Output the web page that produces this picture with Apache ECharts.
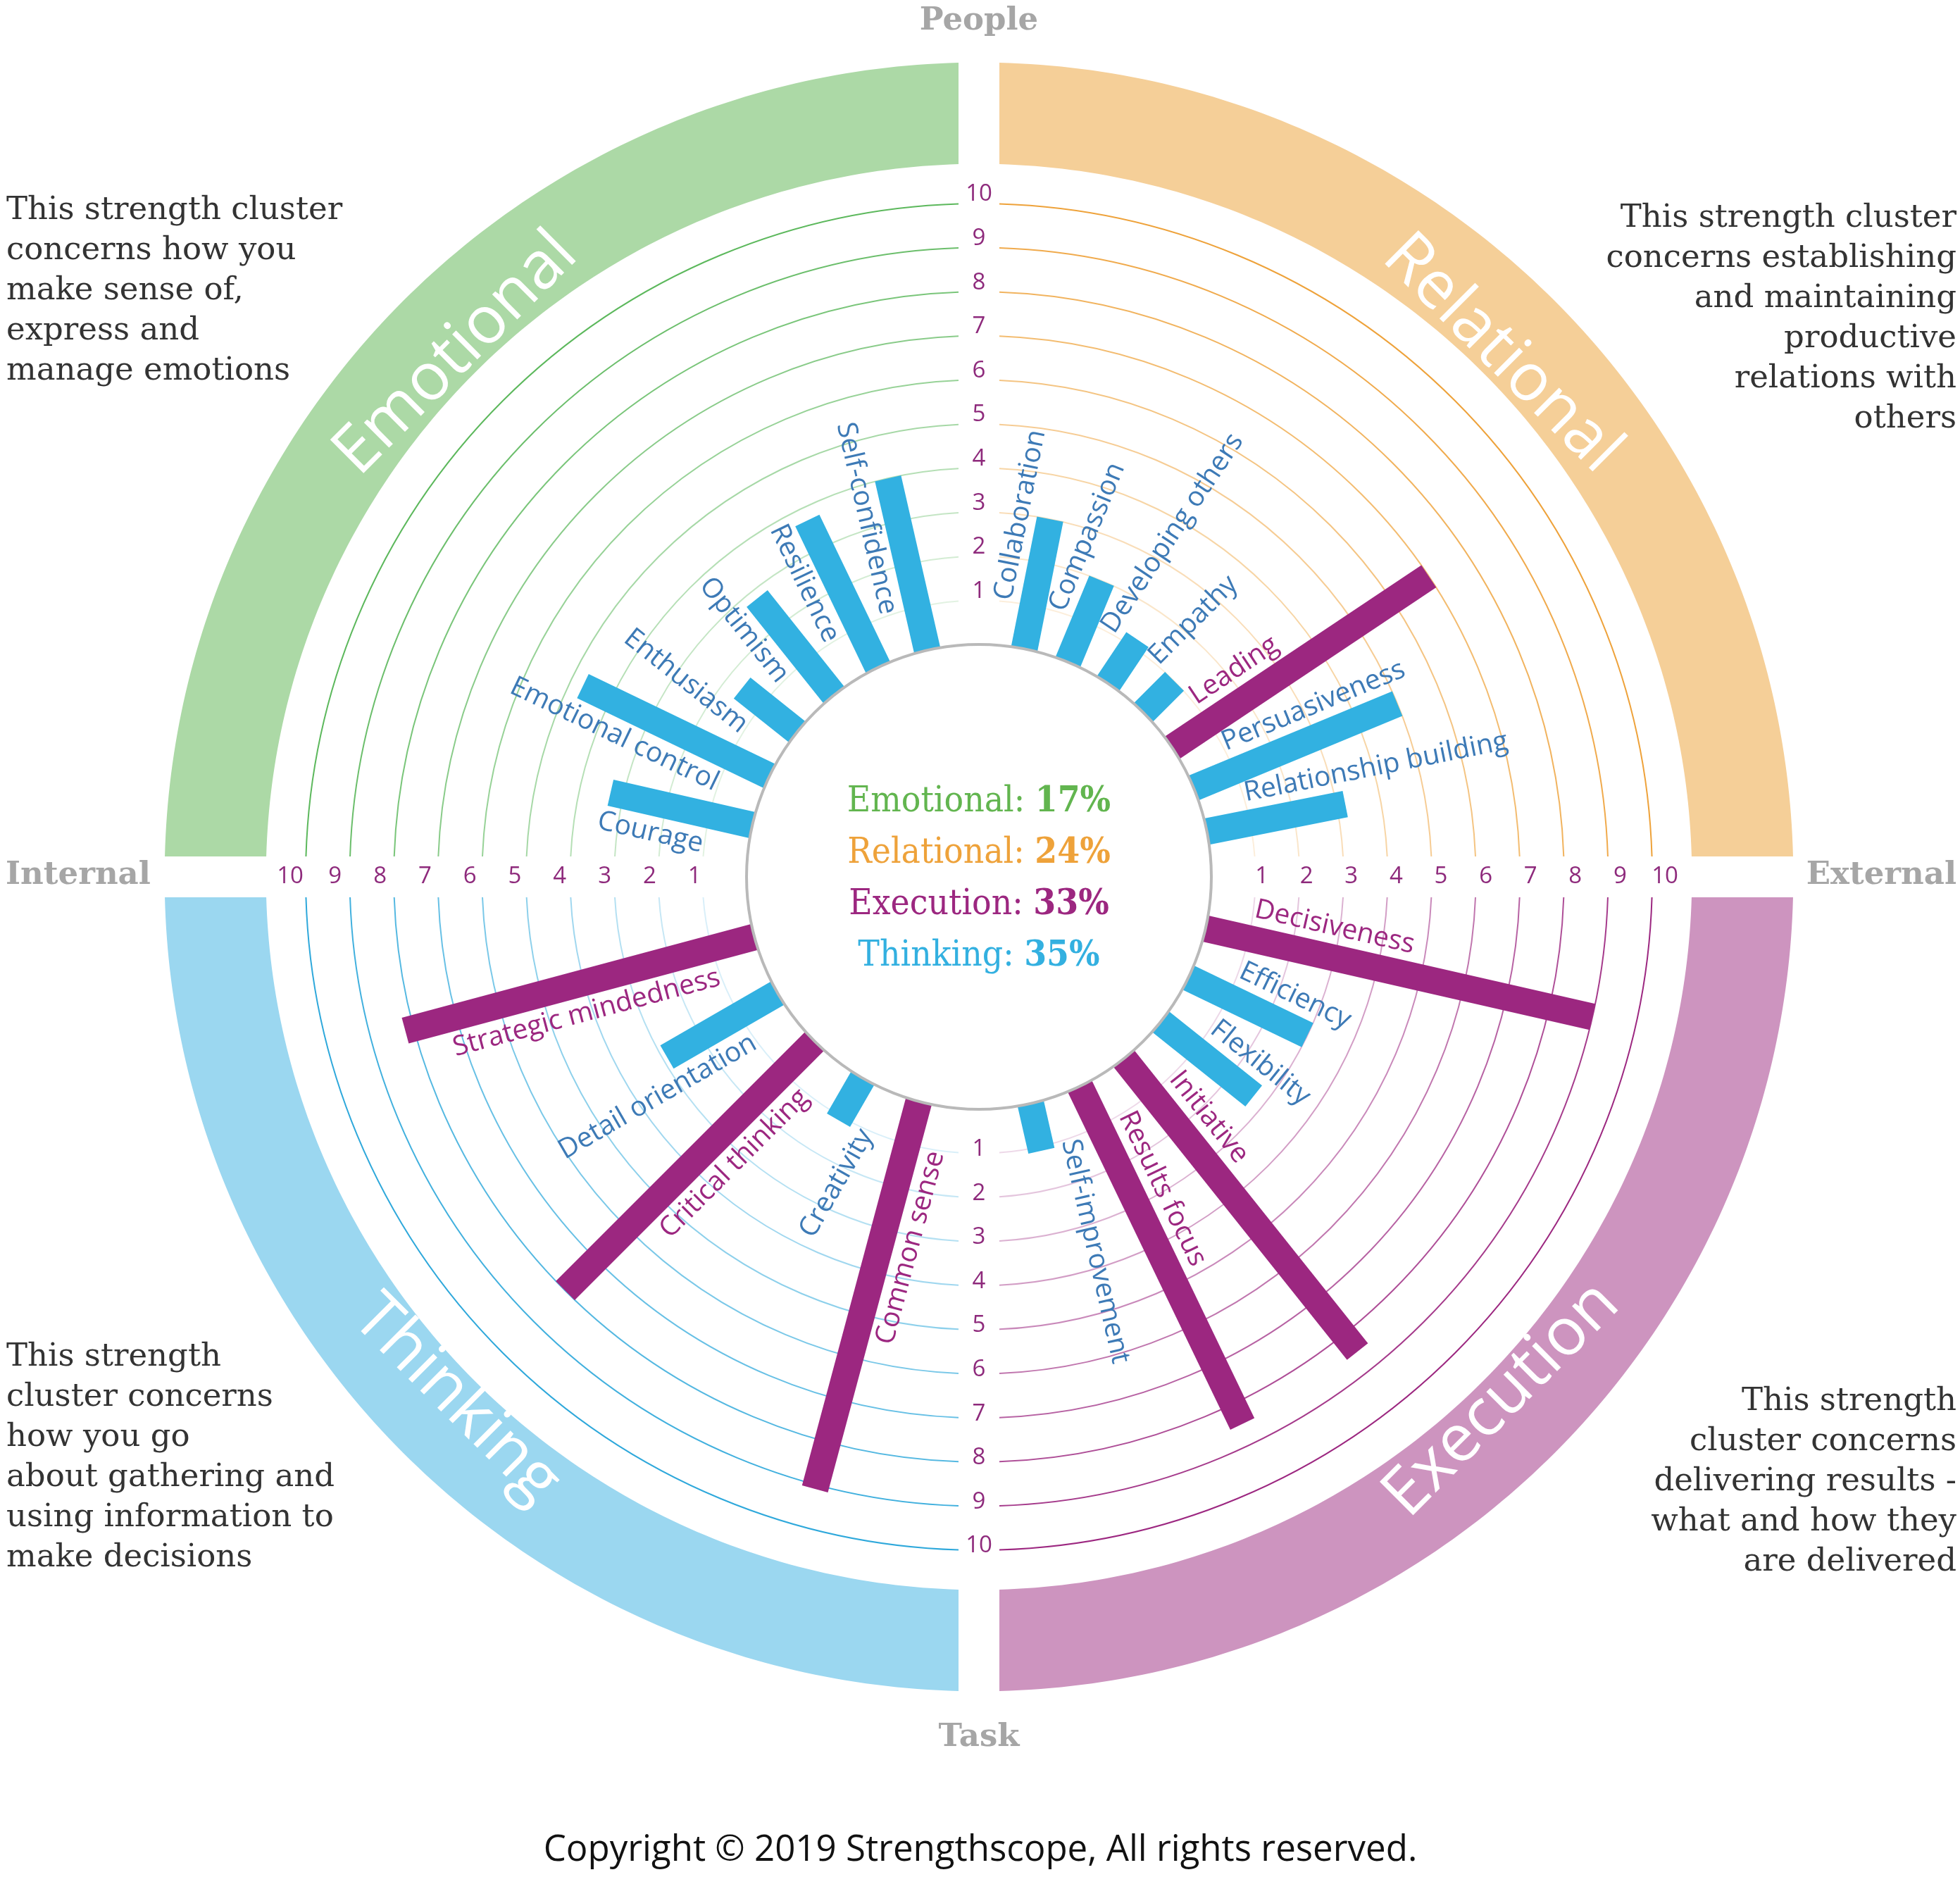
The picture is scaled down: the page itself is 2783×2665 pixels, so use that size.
<!DOCTYPE html>
<html><head><meta charset="utf-8">
<script src="https://cdn.jsdelivr.net/npm/echarts@6/dist/echarts.min.js"></script>
<style>html,body{margin:0;padding:0;background:#fff}#c{width:2783px;height:2665px}</style>
</head><body><div id="c"></div>
<script>
// ---------------- data ----------------
const clusterNames = ['Relational', 'Execution', 'Thinking', 'Emotional']; // clockwise from top-right
const relationalStrengths = ['Collaboration', 'Compassion', 'Developing others', 'Empathy', 'Leading', 'Persuasiveness', 'Relationship building'];
const relationalScores = [3.0, 2.0, 1.2, 1.0, 7.0, 5.0, 3.2];
const executionStrengths = ['Decisiveness', 'Efficiency', 'Flexibility', 'Initiative', 'Results focus', 'Self-improvement'];
const executionScores = [9.0, 3.0, 2.7, 8.5, 8.5, 1.1];
const thinkingStrengths = ['Common sense', 'Creativity', 'Critical thinking', 'Detail orientation', 'Strategic mindedness'];
const thinkingScores = [9.1, 1.1, 8.0, 2.9, 8.2];
const emotionalStrengths = ['Courage', 'Emotional control', 'Enthusiasm', 'Optimism', 'Resilience', 'Self-confidence'];
const emotionalScores = [3.3, 4.7, 1.6, 2.8, 3.7, 4.0];
const standoutStrengths = ['Leading', 'Decisiveness', 'Initiative', 'Results focus', 'Common sense', 'Critical thinking', 'Strategic mindedness'];
const tickValues = [1, 2, 3, 4, 5, 6, 7, 8, 9, 10];
const tickLabels = ['1', '2', '3', '4', '5', '6', '7', '8', '9', '10'];
const shareNames = ['Emotional', 'Relational', 'Execution', 'Thinking'];
const shareValues = [17, 24, 33, 35];
const axisTitles = ['People', 'External', 'Task', 'Internal'];
const descriptions = [
  'This strength cluster\nconcerns establishing\nand maintaining\nproductive\nrelations with\nothers',
  'This strength\ncluster concerns\ndelivering results -\nwhat and how they\nare delivered',
  'This strength\ncluster concerns\nhow you go\nabout gathering and\nusing information to\nmake decisions',
  'This strength cluster\nconcerns how you\nmake sense of,\nexpress and\nmanage emotions'
];
const copyright = 'Copyright \u00A9 2019 Strengthscope, All rights reserved.';

// ---------------- style ----------------
const CX = 1390, CY = 1245, R0 = 330, R10 = 956;
const GAP = 29;                 // half width of the white cross strips
const BAND_IN = 10.9, BAND_OUT = 13.2, BAND_TEXT = 11.5;
const BAR_HW = 19;
const LABEL_START = 1.0;
const bandColors = ['#f5cf98', '#cd94bf', '#9bd7f0', '#acd9a6'];
const ringColors = ['#eea23a', '#9c2780', '#2ea8db', '#5cb85c'];
const shareColors = ['#62b54f', '#eea23a', '#9c2780', '#33b0e0'];
const BLUE = '#32b1e1', PURPLE = '#9c2780', BLUE_TXT = '#3d7ab6';
const SLAB = "'DejaVu Serif Condensed','DejaVu Serif',serif";
const SERIF = "'DejaVu Serif',serif";
const SANS = "'Open Sans',Lato,sans-serif";

// ---------------- derived ----------------
const groups = [
  [relationalStrengths, relationalScores],
  [executionStrengths, executionScores],
  [thinkingStrengths, thinkingScores],
  [emotionalStrengths, emotionalScores]
];
const categories = [], scores = [], angles = [];
groups.forEach(([names, vals], q) => {
  const n = names.length;
  names.forEach((nm, i) => {
    categories.push(nm);
    scores.push(vals[i]);
    angles.push(q * 90 + (i + 1) * 90 / (n + 1));
  });
});
const isStandout = categories.map(c => standoutStrengths.indexOf(c) >= 0);

function radiusOf(api, cs, v) {
  const p = api.coord([v, 0]);
  return Math.hypot(p[0] - cs.cx, p[1] - cs.cy);
}
function txt(style) {
  if (style.align) { style.textAlign = style.align; }
  if (style.verticalAlign) { style.textVerticalAlign = style.verticalAlign; }
  return style;
}

const chart = echarts.init(document.getElementById('c'), null, {width: 2783, height: 2665});

const option = {
  backgroundColor: '#ffffff',
  animation: false,
  polar: {center: [CX, CY], radius: [R0, R10]},
  angleAxis: {type: 'value', min: 0, max: 360, startAngle: 90, clockwise: true, show: false},
  radiusAxis: {type: 'value', min: 0, max: 10, show: false},
  series: [
    // quadrant bands
    {
      type: 'custom', coordinateSystem: 'polar', z: 1, silent: true,
      data: clusterNames.map((c, q) => [BAND_TEXT, 45 + 90 * q]),
      renderItem(params, api) {
        const q = params.dataIndex, cs = params.coordSys;
        const rIn = radiusOf(api, cs, BAND_IN), rOut = radiusOf(api, cs, BAND_OUT);
        const a0 = (-90 + 90 * q) * Math.PI / 180, a1 = a0 + Math.PI / 2;
        const dO = Math.asin(GAP / rOut), dI = Math.asin(GAP / rIn);
        const pts = [], N = 120;
        for (let k = 0; k <= N; k++) {
          const f = a0 + dO + (a1 - a0 - 2 * dO) * k / N;
          pts.push([cs.cx + rOut * Math.cos(f), cs.cy + rOut * Math.sin(f)]);
        }
        for (let k = N; k >= 0; k--) {
          const f = a0 + dI + (a1 - a0 - 2 * dI) * k / N;
          pts.push([cs.cx + rIn * Math.cos(f), cs.cy + rIn * Math.sin(f)]);
        }
        const th = api.value(1);
        const p = api.coord([api.value(0), th]);
        const rotDeg = (q === 0 || q === 3) ? -th : 180 - th;
        return {
          type: 'group', children: [
            {type: 'polygon', shape: {points: pts}, style: {fill: bandColors[q]}},
            {type: 'text', x: p[0], y: p[1], rotation: rotDeg * Math.PI / 180,
              style: txt({text: clusterNames[q], fill: '#ffffff', font: "94px 'Open Sans',sans-serif", align: 'center', verticalAlign: 'middle'})}
          ]
        };
      }
    },
    // rings
    {
      type: 'custom', coordinateSystem: 'polar', z: 2, silent: true,
      data: (() => { const d = []; for (let q = 0; q < 4; q++) tickValues.forEach(k => d.push([k, 45 + 90 * q, q])); return d; })(),
      renderItem(params, api) {
        const cs = params.coordSys;
        const k = api.value(0), q = api.value(2);
        const p = api.coord([k, api.value(1)]);
        const r = Math.hypot(p[0] - cs.cx, p[1] - cs.cy);
        const d = Math.asin(GAP / r);
        const a0 = (-90 + 90 * q) * Math.PI / 180;
        return {
          type: 'arc',
          shape: {cx: cs.cx, cy: cs.cy, r: r, startAngle: a0 + d, endAngle: a0 + Math.PI / 2 - d, clockwise: true},
          style: {stroke: ringColors[q], fill: null, lineWidth: 2, opacity: 0.18 + 0.82 * (k - 1) / 9}
        };
      }
    },
    // bars + labels
    {
      type: 'custom', coordinateSystem: 'polar', z: 3, silent: true,
      data: scores.map((s, i) => [s, angles[i]]),
      renderItem(params, api) {
        const i = params.dataIndex, cs = params.coordSys;
        const v = api.value(0), a = api.value(1);
        const p0 = api.coord([0, a]), p1 = api.coord([v, a]);
        const L = Math.hypot(p0[0] - cs.cx, p0[1] - cs.cy);
        const d = [(p0[0] - cs.cx) / L, (p0[1] - cs.cy) / L];
        const n = [d[1], -d[0]];
        const hw = BAR_HW;
        const pts = [
          [p0[0] + n[0] * hw, p0[1] + n[1] * hw], [p1[0] + n[0] * hw, p1[1] + n[1] * hw],
          [p1[0] - n[0] * hw, p1[1] - n[1] * hw], [p0[0] - n[0] * hw, p0[1] - n[1] * hw]
        ];
        const ls = api.coord([LABEL_START, a]);
        const off = hw + 4;
        const P = [ls[0] + n[0] * off, ls[1] + n[1] * off];
        const right = a < 180;
        const rot = (right ? 90 - a : 270 - a) * Math.PI / 180;
        const col = isStandout[i] ? PURPLE : BLUE;
        return {
          type: 'group', children: [
            {type: 'polygon', shape: {points: pts}, style: {fill: col}},
            {type: 'text', x: P[0], y: P[1], rotation: rot,
              style: txt({text: categories[i], fill: isStandout[i] ? PURPLE : BLUE_TXT, font: '39px ' + SANS,
                align: right ? 'left' : 'right', verticalAlign: right ? 'bottom' : 'top'})}
          ]
        };
      }
    },
    // inner circle
    {
      type: 'custom', coordinateSystem: 'polar', z: 4, silent: true,
      data: [[0, 0]],
      renderItem(params, api) {
        const cs = params.coordSys;
        const p = api.coord([0, 0]);
        const r = Math.hypot(p[0] - cs.cx, p[1] - cs.cy);
        return {type: 'circle', shape: {cx: cs.cx, cy: cs.cy, r: r}, style: {fill: '#ffffff', stroke: '#b9b9b9', lineWidth: 4}};
      }
    },
    // tick labels on the four axes
    {
      type: 'custom', coordinateSystem: 'polar', z: 5, silent: true,
      data: (() => { const d = []; [0, 90, 180, 270].forEach((ang) => tickValues.forEach((k, t) => d.push([k, ang, t]))); return d; })(),
      renderItem(params, api) {
        const k = api.value(0), ang = api.value(1), t = api.value(2);
        const p = api.coord([k, ang]);
        let x = p[0], y = p[1];
        if (ang === 0) y -= 13;
        else if (ang === 180) y -= 6;
        else if (ang === 90) x += 8 + k;
        else x -= 10 + 1.2 * k;
        return {type: 'text', x: x, y: y,
          style: txt({text: tickLabels[t], fill: '#8e2a7c', font: '33px ' + SANS, align: 'center', verticalAlign: 'middle'})};
      }
    }
  ],
  graphic: [
    // axis titles
    {type: 'text', x: 1390, y: 30, z: 100, style: txt({text: axisTitles[0], font: 'bold 45px ' + SERIF, fill: '#a6a6a6', align: 'center', verticalAlign: 'middle'})},
    {type: 'text', x: 2778, y: 1243, z: 100, style: txt({text: axisTitles[1], font: 'bold 45px ' + SERIF, fill: '#a6a6a6', align: 'right', verticalAlign: 'middle'})},
    {type: 'text', x: 1390, y: 2467, z: 100, style: txt({text: axisTitles[2], font: 'bold 45px ' + SERIF, fill: '#a6a6a6', align: 'center', verticalAlign: 'middle'})},
    {type: 'text', x: 8, y: 1243, z: 100, style: txt({text: axisTitles[3], font: 'bold 45px ' + SERIF, fill: '#a6a6a6', align: 'left', verticalAlign: 'middle'})},
    // descriptions
    {type: 'text', x: 2778, y: 282, z: 100, style: txt({text: descriptions[0], font: '45px ' + SERIF, fill: '#333333', lineHeight: 57, align: 'right', verticalAlign: 'top'})},
    {type: 'text', x: 2778, y: 1962, z: 100, style: txt({text: descriptions[1], font: '45px ' + SERIF, fill: '#333333', lineHeight: 57, align: 'right', verticalAlign: 'top'})},
    {type: 'text', x: 9, y: 1899, z: 100, style: txt({text: descriptions[2], font: '45px ' + SERIF, fill: '#333333', lineHeight: 57, align: 'left', verticalAlign: 'top'})},
    {type: 'text', x: 9, y: 271, z: 100, style: txt({text: descriptions[3], font: '45px ' + SERIF, fill: '#333333', lineHeight: 57, align: 'left', verticalAlign: 'top'})},
    // centre shares
    ...shareNames.map((nm, i) => ({
      type: 'text', x: 1390, y: 1139 + i * 73, z: 100,
      style: txt({
        text: '{a|' + nm + ': }{b|' + shareValues[i] + '%}',
        align: 'center', verticalAlign: 'middle',
        rich: {
          a: {font: '51px ' + SLAB, fill: shareColors[i]},
          b: {font: 'bold 51px ' + SLAB, fill: shareColors[i]}
        }
      })
    })),
    // copyright
    {type: 'text', x: 1392, y: 2627, z: 100, style: txt({text: copyright, font: '51px ' + SANS, fill: '#111111', align: 'center', verticalAlign: 'middle'})}
  ]
};
chart.setOption(option);
</script>
</body></html>
